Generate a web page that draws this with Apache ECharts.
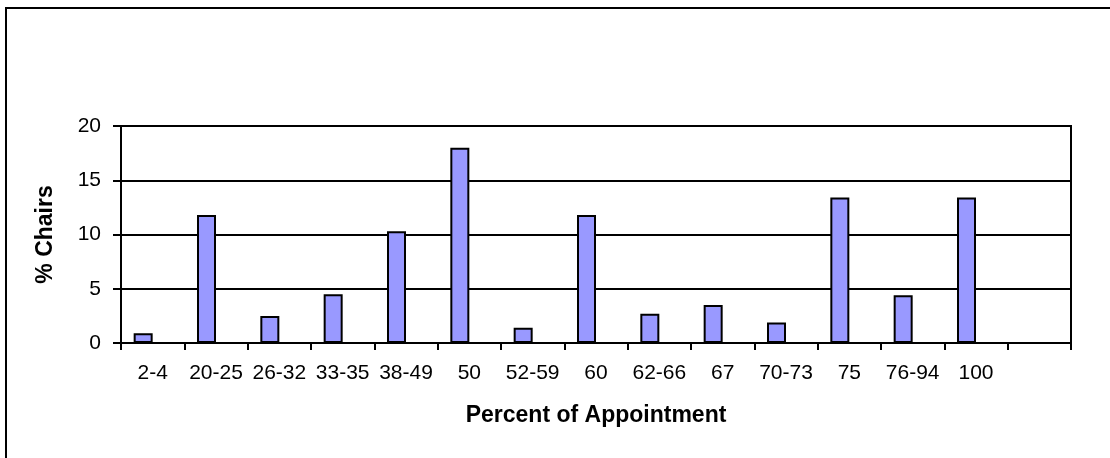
<!DOCTYPE html>
<html>
<head>
<meta charset="utf-8">
<script src="https://cdn.jsdelivr.net/npm/echarts@6/dist/echarts.min.js"></script>
<style>
  html, body { margin: 0; padding: 0; background: #fff; }
  #chart { width: 1110px; height: 458px; }
</style>
</head>
<body>
<div id="chart"></div>
<script>
// Appointment ranges (last slot is left empty on the axis)
const categories = ['2-4', '20-25', '26-32', '33-35', '38-49', '50', '52-59', '60',
                    '62-66', '67', '70-73', '75', '76-94', '100', ''];
// Share of chairs in each appointment range, in percent
const chairsPct = [0.9, 11.8, 2.5, 4.5, 10.3, 18.0, 1.4, 11.8, 2.7, 3.5, 1.9, 13.4, 4.4, 13.4, null];
// Companion series with no values; keeps each bar to the left half of its slot
const emptySeries = [];
const yTicks = { min: 0, max: 20, interval: 5 };

const FONT = "'Liberation Sans', Arial, sans-serif";

const chart = echarts.init(document.getElementById('chart'), null, { renderer: 'canvas' });
chart.setOption({
  animation: false,
  backgroundColor: '#fff',
  graphic: [{
    type: 'rect',
    shape: { x: 6, y: 8, width: 1300, height: 700 },
    style: { fill: 'none', stroke: '#000', lineWidth: 2 },
    silent: true
  }],
  grid: {
    left: 121, right: 39, top: 126, bottom: 115,
    show: true, borderColor: '#000', borderWidth: 2, backgroundColor: 'transparent'
  },
  xAxis: {
    type: 'category',
    data: categories,
    boundaryGap: true,
    name: 'Percent of Appointment',
    nameLocation: 'middle',
    nameGap: 61,
    nameTextStyle: { fontFamily: FONT, fontSize: 23, fontWeight: 'bold', color: '#000' },
    axisLine: { lineStyle: { color: '#000', width: 2 } },
    axisTick: { show: true, alignWithLabel: false, length: 7, lineStyle: { color: '#000', width: 2 } },
    axisLabel: { fontFamily: FONT, fontSize: 21, color: '#000', margin: 20, interval: 0 },
    splitLine: { show: false }
  },
  yAxis: {
    type: 'value',
    min: yTicks.min, max: yTicks.max, interval: yTicks.interval,
    name: '% Chairs',
    nameLocation: 'middle',
    nameRotate: 90,
    nameGap: 64,
    nameTextStyle: { fontFamily: FONT, fontSize: 23, fontWeight: 'bold', color: '#000' },
    axisLine: { show: true, lineStyle: { color: '#000', width: 2 } },
    axisTick: { show: true, inside: false, length: 8, lineStyle: { color: '#000', width: 2 } },
    axisLabel: { fontFamily: FONT, fontSize: 21, color: '#000', margin: 20 },
    splitLine: { show: true, lineStyle: { color: '#000', width: 2 } }
  },
  series: [
    {
      name: '% Chairs',
      type: 'bar',
      data: chairsPct,
      barWidth: 19,
      barGap: '0%',
      itemStyle: { color: '#9999FF', borderColor: '#000', borderWidth: 2 }
    },
    {
      name: 'empty',
      type: 'bar',
      data: emptySeries,
      barWidth: 19,
      barGap: '0%',
      itemStyle: { color: '#993366', borderColor: '#000', borderWidth: 2 }
    }
  ]
});
</script>
</body>
</html>
